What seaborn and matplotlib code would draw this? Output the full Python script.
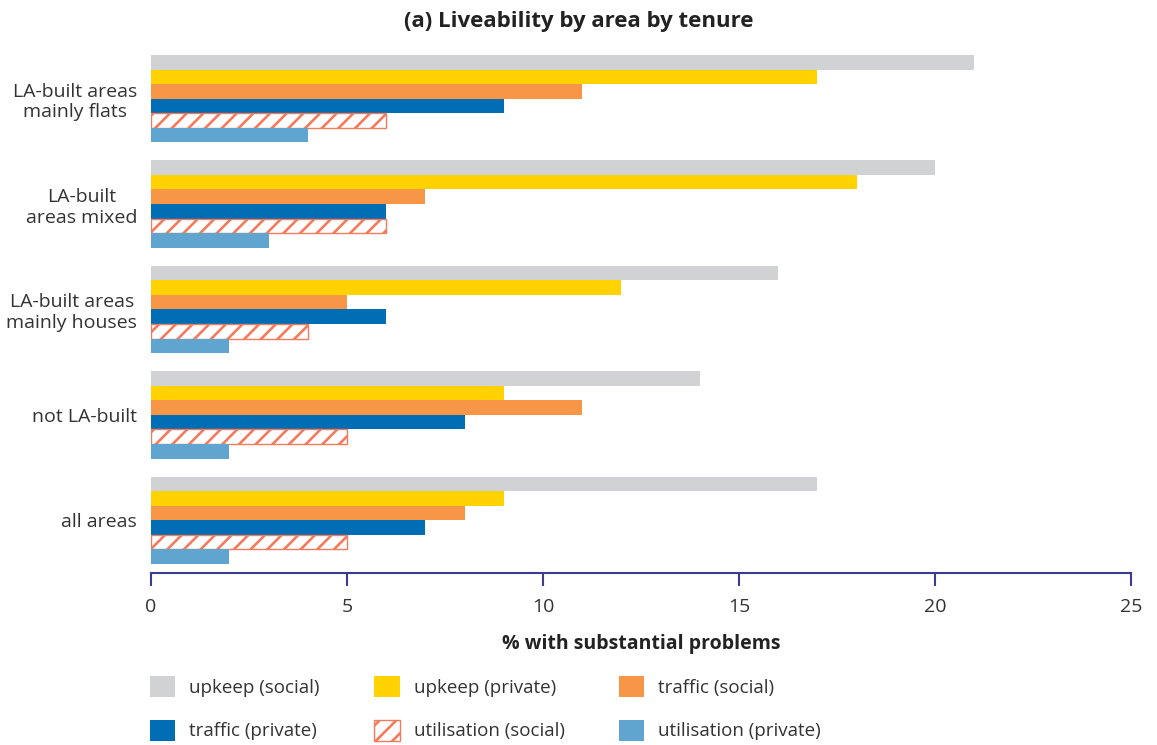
import matplotlib
matplotlib.use("Agg")
import matplotlib.pyplot as plt
import seaborn as sns
import pandas as pd
from matplotlib.patches import Patch

# Data
areas = ["LA-built areas\nmainly flats", "LA-built\nareas mixed", "LA-built areas\nmainly houses",
         "not LA-built", "all areas"]
series = ["upkeep (social)", "upkeep (private)", "traffic (social)",
          "traffic (private)", "utilisation (social)", "utilisation (private)"]
upkeep_social = [21, 20, 16, 14, 17]
upkeep_private = [17, 18, 12, 9, 9]
traffic_social = [11, 7, 5, 11, 8]
traffic_private = [9, 6, 6, 8, 7]
utilisation_social = [6, 6, 4, 5, 5]
utilisation_private = [4, 3, 2, 2, 2]
x_ticks = [0, 5, 10, 15, 20, 25]

values = [upkeep_social, upkeep_private, traffic_social,
          traffic_private, utilisation_social, utilisation_private]
colors = ["#d1d2d4", "#ffd200", "#f79646", "#006db5", "#ffffff", "#5fa5cf"]
hatch_edge = "#f47a5c"

rows = []
for s, vals in zip(series, values):
    for a, v in zip(areas, vals):
        rows.append({"area": a, "series": s, "value": v})
df = pd.DataFrame(rows)

sns.set_theme(style="white")
plt.rcParams["font.family"] = ["Open Sans", "DejaVu Sans"]
plt.rcParams["hatch.linewidth"] = 1.9

fig = plt.figure(figsize=(11.57, 7.45), dpi=100)
ax = fig.add_axes([0.1305, 0.2309, 0.847, 0.7074])

sns.barplot(data=df, y="area", x="value", hue="series", order=areas, hue_order=series,
            palette=colors, orient="h", width=0.83, ax=ax, legend=False,
            saturation=1, errorbar=None)

for i, cont in enumerate(ax.containers):
    for p in cont:
        if series[i] == "utilisation (social)":
            p.set_facecolor("white")
            p.set_edgecolor(hatch_edge)
            p.set_hatch("//")
            p.set_linewidth(1.0)
        else:
            p.set_linewidth(0)

navy = "#3b3b8f"
ax.set_xlim(0, 25)
ax.set_ylim(4.5, -0.5)
ax.set_xticks(x_ticks)
ax.set_xticklabels([str(t) for t in x_ticks])
for side in ["top", "right", "left"]:
    ax.spines[side].set_visible(False)
ax.spines["bottom"].set_color(navy)
ax.spines["bottom"].set_linewidth(1.5)
ax.tick_params(axis="x", bottom=True, direction="out", length=9, width=1.5, color=navy,
               labelsize=14, labelcolor="#333333", pad=9)
ax.tick_params(axis="y", left=False, labelsize=14, labelcolor="#333333", pad=4)
for lbl in ax.get_yticklabels():
    lbl.set_multialignment("center")
ax.set_ylabel("")
ax.set_xlabel("% with substantial problems", fontsize=14, fontweight="bold",
              color="#222222", labelpad=13)

fig.suptitle("(a) Liveability by area by tenure", x=0.5, y=0.985, fontsize=16,
             fontweight="bold", color="#222222")

handles = []
for s, c in zip(series, colors):
    if s == "utilisation (social)":
        handles.append(Patch(facecolor="white", edgecolor=hatch_edge, hatch="//", linewidth=1.0, label=s))
    else:
        handles.append(Patch(facecolor=c, edgecolor="none", label=s))
order = [0, 3, 1, 4, 2, 5]
fig.legend([handles[i] for i in order], [series[i] for i in order],
           loc="upper left", bbox_to_anchor=(0.1296, 0.0926), ncol=3, frameon=False,
           fontsize=13.5, handlelength=1.35, handleheight=1.35, handletextpad=0.75,
           columnspacing=2.9, labelspacing=1.2, labelcolor="#333333",
           borderpad=0, borderaxespad=0, bbox_transform=fig.transFigure)

fig.savefig("out.png", dpi=100)
